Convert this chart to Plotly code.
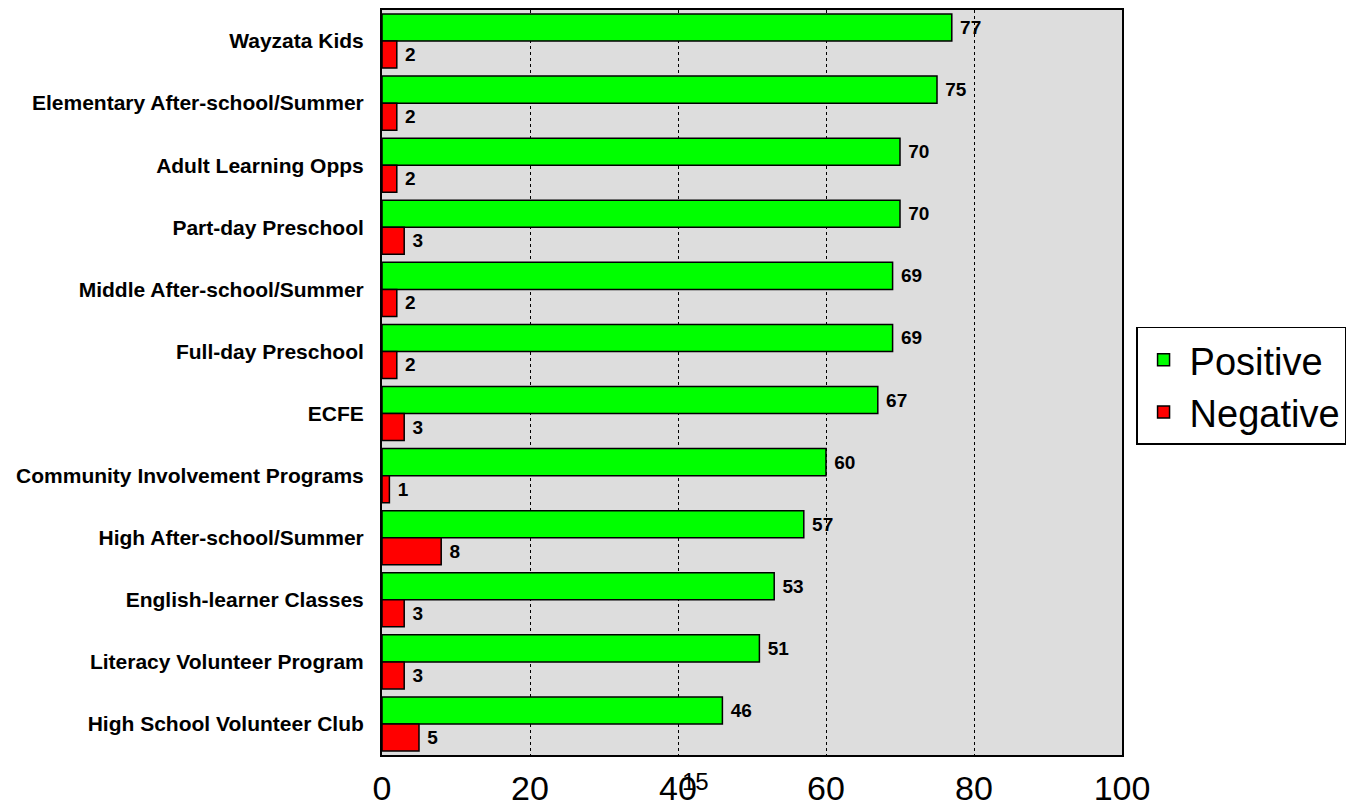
import plotly.graph_objects as go

categories = [
    "Wayzata Kids",
    "Elementary After-school/Summer",
    "Adult Learning Opps",
    "Part-day Preschool",
    "Middle After-school/Summer",
    "Full-day Preschool",
    "ECFE",
    "Community Involvement Programs",
    "High After-school/Summer",
    "English-learner Classes",
    "Literacy Volunteer Program",
    "High School Volunteer Club",
]
positive = [77, 75, 70, 70, 69, 69, 67, 60, 57, 53, 51, 46]
negative = [2, 2, 2, 3, 2, 2, 3, 1, 8, 3, 3, 5]
x_ticks = [0, 20, 40, 60, 80, 100]

FONT = "Liberation Sans, Arial, sans-serif"

fig = go.Figure()
fig.add_trace(go.Bar(
    y=categories, x=positive, orientation="h", name="Positive",
    marker=dict(color="#00FF00", line=dict(color="black", width=1.5)),
    text=[" " + str(v) for v in positive], textposition="outside",
    textfont=dict(family=FONT, size=19, color="black", weight="bold"),
    cliponaxis=False,
))
fig.add_trace(go.Bar(
    y=categories, x=negative, orientation="h", name="Negative",
    marker=dict(color="#FF0000", line=dict(color="black", width=1.5)),
    text=[" " + str(v) for v in negative], textposition="outside",
    textfont=dict(family=FONT, size=19, color="black", weight="bold"),
    cliponaxis=False,
))

fig.update_layout(
    width=1346, height=807,
    margin=dict(l=382, r=224, t=10, b=52, autoexpand=False),
    barmode="group", bargap=0.13, bargroupgap=0,
    plot_bgcolor="#DDDDDD", paper_bgcolor="white",
    font=dict(family=FONT, color="black"),
    legend=dict(
        x=1.019, xanchor="left", y=0.5745, yanchor="top",
        font=dict(family=FONT, size=38, color="black"),
        bordercolor="black", borderwidth=1.5, bgcolor="white",
        traceorder="normal", itemwidth=42, tracegroupgap=0,
    ),
    annotations=[dict(
        x=42.3, y=-0.036, xref="x", yref="paper", text="15",
        showarrow=False, font=dict(family=FONT, size=24, color="black"),
        xanchor="center", yanchor="middle",
    )],
)
fig.update_xaxes(
    range=[0, 100], tickvals=x_ticks, ticktext=[str(v) for v in x_ticks],
    showgrid=True, gridcolor="black", griddash="dot", gridwidth=1,
    zeroline=False, showline=True, linecolor="black", linewidth=2, mirror=True,
    ticks="", tickfont=dict(family=FONT, size=34, color="black"),
    ticklabelstandoff=2, automargin=False,
)
fig.update_yaxes(
    categoryorder="array", categoryarray=categories, autorange="reversed",
    showgrid=False, zeroline=False, showline=True, linecolor="black",
    linewidth=2, mirror=True, ticks="",
    tickfont=dict(family=FONT, size=21, color="black", weight="bold"),
    ticklabelstandoff=12, automargin=False,
)

# remove the default 8px page margin so the figure fills the window exactly
fig.write_html(
    "out.html",
    config={"displayModeBar": False},
    post_script="document.body.style.margin='0';",
)
